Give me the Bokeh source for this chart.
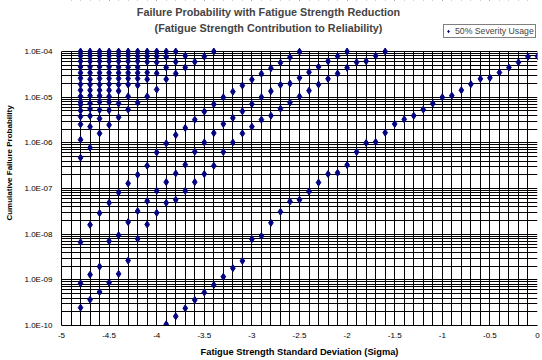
from bokeh.plotting import figure
from bokeh.models import FixedTicker, Legend, LegendItem, Label, Range1d, BoxAnnotation
from bokeh.embed import file_html
from bokeh.resources import INLINE

# ---- data ----
sigma = (
    [-4.8] * 19 + [-4.7] * 17 + [-4.6] * 16 + [-4.5] * 15 + [-4.4] * 13 + [-4.3] * 12 +
    [-4.2] * 11 + [-4.1] * 9 + [-4.0] * 8 + [-3.9] * 8 + [-3.8] * 7 + [-3.7] * 6 +
    [-3.6] * 5 + [-3.5] * 5 + [-3.4] * 5 + [-3.3] * 4 + [-3.2] * 4 + [-3.1] * 4 +
    [-3.0] * 4 + [-2.9] * 4 + [-2.8] * 4 + [-2.7] * 4 + [-2.6] * 4 + [-2.5] * 4 +
    [-2.4] * 3 + [-2.3] * 3 + [-2.2] * 3 + [-2.1] * 3 + [-2.0] * 3 +
    [-1.9] * 2 + [-1.8] * 2 + [-1.7] * 2 + [-1.6] * 2 +
    [-1.5, -1.4, -1.3, -1.2, -1.1, -1.0, -0.9, -0.8, -0.7, -0.6, -0.5, -0.4, -0.3, -0.2, -0.1, 0.0]
)
failure_prob = [
    1.0e-4, 8.05e-5, 6.12e-5, 4.61e-5, 3.41e-5, 2.6e-5, 1.92e-5, 1.42e-5, 1.04e-5, 7.87e-6, 6.87e-6, 5.08e-6, 3.75e-6, 2.54e-6, 1.17e-6, 4.72e-7, 6.68e-9, 8.41e-10, 2.46e-10,
    1.0e-4, 8.05e-5, 6.12e-5, 4.61e-5, 3.41e-5, 2.47e-5, 1.89e-5, 1.42e-5, 1.07e-5, 7.34e-6, 5.53e-6, 3.88e-6, 2.26e-6, 7.83e-7, 1.6e-8, 1.3e-9, 3.68e-10,
    1.0e-4, 8.05e-5, 6.12e-5, 4.61e-5, 3.41e-5, 2.56e-5, 1.89e-5, 1.42e-5, 1.07e-5, 7.87e-6, 5.26e-6, 3.39e-6, 1.61e-6, 2.89e-8, 1.95e-9, 5.43e-10,
    1.0e-4, 8.05e-5, 6.12e-5, 4.61e-5, 3.41e-5, 2.56e-5, 1.92e-5, 1.42e-5, 1.04e-5, 7.87e-6, 5.15e-6, 2.47e-6, 4.87e-8, 7.03e-9, 8.68e-10,
    1.0e-4, 8.05e-5, 6.12e-5, 4.53e-5, 3.41e-5, 2.56e-5, 1.89e-5, 1.37e-5, 7.23e-6, 3.62e-6, 8.19e-8, 9.5e-9, 1.35e-9,
    1.0e-4, 8.05e-5, 6.12e-5, 4.53e-5, 3.41e-5, 2.56e-5, 1.89e-5, 1.04e-5, 5.34e-6, 1.29e-7, 1.84e-8, 2.64e-9,
    1.0e-4, 7.9e-5, 6.12e-5, 4.53e-5, 3.41e-5, 2.56e-5, 1.82e-5, 7.6e-6, 2.0e-7, 3.2e-8, 7.89e-9,
    1.0e-4, 7.9e-5, 5.94e-5, 3.46e-5, 2.47e-5, 1.04e-5, 3.15e-7, 5.3e-8, 1.63e-8,
    1.0e-4, 7.9e-5, 5.82e-5, 3.34e-5, 1.47e-5, 6.18e-7, 8.91e-8, 2.94e-8,
    1.0e-4, 7.65e-5, 4.46e-5, 2.47e-5, 9.73e-7, 1.38e-7, 4.87e-8, 1.06e-10,
    1.0e-4, 5.94e-5, 3.29e-5, 1.49e-6, 2.14e-7, 5.66e-8, 1.59e-10,
    8.05e-5, 4.46e-5, 2.12e-6, 3.32e-7, 8.91e-8, 2.38e-10,
    5.94e-5, 3.22e-6, 6.4e-7, 1.38e-7, 3.62e-10,
    7.76e-5, 4.83e-6, 1.02e-6, 2.07e-7, 5.29e-10,
    1.0e-4, 6.98e-6, 1.64e-6, 3.15e-7, 7.73e-10,
    9.9e-6, 2.59e-6, 6.3e-7, 1.17e-9,
    1.32e-5, 3.51e-6, 1.02e-6, 1.8e-9,
    1.8e-5, 4.9e-6, 1.61e-6, 2.6e-9,
    2.43e-5, 7.05e-6, 2.26e-6, 7.78e-9,
    3.26e-5, 1.0e-5, 3.22e-6, 9.05e-9,
    4.3e-5, 1.35e-5, 3.94e-6, 1.77e-8,
    5.7e-5, 1.86e-5, 5.61e-6, 3.09e-8,
    7.5e-5, 1.99e-5, 7.6e-6, 5.2e-8,
    9.9e-5, 2.65e-5, 1.03e-5, 5.66e-8,
    3.52e-5, 1.39e-5, 8.61e-8,
    4.61e-5, 1.89e-5, 1.35e-7,
    6.12e-5, 2.52e-5, 2.07e-7,
    7.9e-5, 3.29e-5, 2.21e-7,
    1.0e-4, 4.39e-5, 3.27e-7,
    5.82e-5, 6.3e-7,
    6.12e-5, 9.93e-7,
    8.05e-5, 1.04e-6,
    1.0e-4, 1.67e-6,
    2.59e-6, 3.27e-6, 3.94e-6, 5.34e-6, 7.23e-6, 9.93e-6, 1.08e-5, 1.42e-5,
    1.92e-5, 2.52e-5, 2.65e-5, 3.46e-5, 4.46e-5, 5.82e-5, 7.65e-5, 7.9e-5,
]

series_name = "50% Severity Usage"
title_line1 = "Failure Probability with Fatigue Strength Reduction"
title_line2 = "(Fatigue Strength Contribution to Reliability)"
x_title = "Fatigue Strength Standard Deviation (Sigma)"
y_title = "Cumulative Failure Probability"
x_ticks = [-5, -4.5, -4, -3.5, -3, -2.5, -2, -1.5, -1, -0.5, 0]
x_tick_labels = ["-5", "-4.5", "-4", "-3.5", "-3", "-2.5", "-2", "-1.5", "-1", "-0.5", "0"]
y_ticks = [1e-10, 1e-9, 1e-8, 1e-7, 1e-6, 1e-5, 1e-4]
y_tick_labels = ["1.0E-10", "1.0E-09", "1.0E-08", "1.0E-07", "1.0E-06", "1.0E-05", "1.0E-04"]

FONT = "Liberation Sans"
W, H = 542, 360
FRAME_LEFT, FRAME_BOTTOM = 61, 35
PLOT_TOP_PX = 51            # where the 1E-04 line sits, from the top of the picture
y_min, y_max = 1e-10, 1e-4
decades = 6
px_per_decade = (H - FRAME_BOTTOM - PLOT_TOP_PX) / decades
y_frame_top = y_max * 10 ** (PLOT_TOP_PX / px_per_decade)   # frame reaches the top of the picture

p = figure(width=W, height=H, x_range=Range1d(-5, 0), y_range=Range1d(y_min, y_frame_top),
           y_axis_type="log", output_backend="svg", toolbar_location=None, title=None,
           min_border_left=FRAME_LEFT, min_border_right=5, min_border_top=0,
           min_border_bottom=FRAME_BOTTOM)
p.outline_line_color = None
p.background_fill_color = "white"
p.border_fill_color = "white"

x_minor = [round(-5 + 0.1 * i, 1) for i in range(51)]
y_minor = [m * 10.0 ** e for e in range(-10, -4) for m in range(2, 10)]
p.xaxis.ticker = FixedTicker(ticks=x_ticks, minor_ticks=x_minor)
p.yaxis.ticker = FixedTicker(ticks=y_ticks, minor_ticks=y_minor)
p.xaxis.major_label_overrides = {float(t): l for t, l in zip(x_ticks, x_tick_labels)}
p.yaxis.major_label_overrides = {float(t): l for t, l in zip(y_ticks, y_tick_labels)}
p.yaxis.bounds = (y_min, y_max)

for ax in (p.xaxis, p.yaxis):
    ax.major_tick_in = 0
    ax.major_tick_out = 0
    ax.minor_tick_in = 0
    ax.minor_tick_out = 0
    ax.axis_line_color = "black"
    ax.major_label_text_font = FONT
    ax.major_label_text_font_size = "8px"
    ax.major_label_text_color = "black"
    ax.axis_label_text_font = FONT
    ax.axis_label_text_font_style = "bold"
    ax.axis_label_text_color = "black"

p.xaxis.axis_label = x_title
p.xaxis.axis_label_text_font_size = "9.3px"
p.xaxis.major_label_standoff = 7
p.xaxis.axis_label_standoff = 6
p.yaxis.axis_label = y_title
p.yaxis.axis_label_text_font_size = "8px"
p.yaxis.major_label_standoff = 9
p.yaxis.axis_label_standoff = 7

for g in (p.xgrid, p.ygrid):
    g.grid_line_color = "black"
    g.grid_line_alpha = 1.0
    g.minor_grid_line_color = "black"
    g.grid_line_width = 1
    g.minor_grid_line_width = 1

# white area above the plot area (title zone), drawn under the markers
p.add_layout(BoxAnnotation(bottom=y_max * 1.03, fill_color="white", fill_alpha=1.0,
                           line_color=None, level="underlay"))

r = p.scatter(sigma, failure_prob, marker="diamond", size=7,
              fill_color="#000080", line_color="#000080")

legend = Legend(items=[LegendItem(label=series_name, renderers=[r])],
                location=(382, 287), orientation="vertical",
                border_line_color="black", border_line_width=1,
                background_fill_color="white", background_fill_alpha=1,
                label_text_font=FONT, label_text_font_size="8.7px",
                glyph_width=6, glyph_height=8, label_height=8, label_width=10,
                label_standoff=4, padding=1, spacing=0, margin=0)
p.add_layout(legend)

frame_h = H - FRAME_BOTTOM
title1 = Label(x=207, y=frame_h - 11.5, x_units="screen", y_units="screen",
               text=title_line1, text_align="center", text_baseline="middle",
               text_font=FONT, text_font_style="bold", text_font_size="10.8px")
title2 = Label(x=207, y=frame_h - 27, x_units="screen", y_units="screen",
               text=title_line2, text_align="center", text_baseline="middle",
               text_font=FONT, text_font_style="bold", text_font_size="10.8px")
p.add_layout(title1)
p.add_layout(title2)

open("out.html", "w").write(file_html(p, INLINE))
